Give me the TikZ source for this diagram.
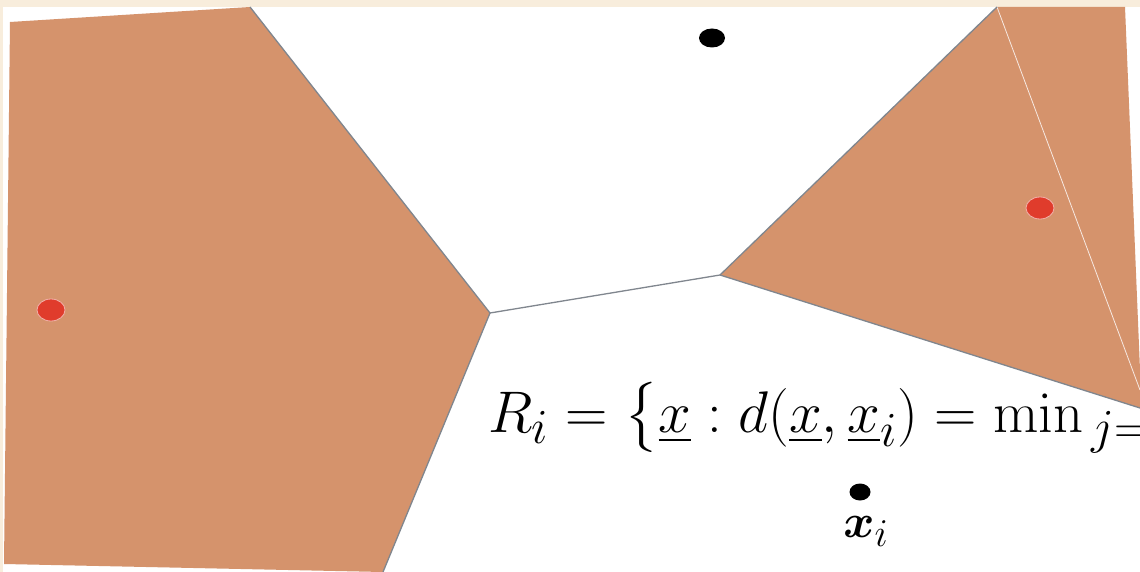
\documentclass[tikz,border=0pt]{standalone}
\usepackage{amsmath}
\usepackage{bm}
\usepackage{graphicx}
\usepackage{xcolor}
\definecolor{cellorange}{RGB}{213,147,108}
\definecolor{seedred}{RGB}{224,60,44}
\definecolor{pagebeige}{RGB}{248,237,220}
\definecolor{edgegray}{RGB}{128,134,142}
\usepackage{tikz}
\usetikzlibrary{positioning, shapes.geometric}

\begin{document}
\begin{tikzpicture}[x=1pt, y=-1pt,
    cell/.style={fill=cellorange, draw=none},
    ridge/.style={edgegray, line width=1.3pt},
    redseed/.style={ellipse, fill=seedred, draw=seedred!40!white, line width=0.8pt, minimum width=28pt, minimum height=22pt, inner sep=0pt},
    blackseed/.style={ellipse, fill=black, inner sep=0pt}]
      % Page and white slide area
      \useasboundingbox (0,0) rectangle (1140,572);
      \clip (0,0) rectangle (1140,572);
      \fill[pagebeige] (0,0) rectangle (1140,572);
      \fill[white] (3,7) rectangle (1140,572);
      % Voronoi vertices
      \coordinate (vtl) at (250,7);
      \coordinate (vl) at (490,313);
      \coordinate (vr) at (720,275);
      \coordinate (vtr) at (997,7);
      \coordinate (vbl) at (383,572);
      \coordinate (vbr) at (1140,408);
      % Left cell
      \fill[cell] (10,22) -- (vtl) -- (vl) -- (vbl) -- (4,564) -- cycle;
      % Right cells
      \fill[cell] (vtr) -- (1125,7) -- (1140,370) -- (vbr) -- (vr) -- cycle;
      \draw[white!80!cellorange, line width=0.8pt] (vtr) -- (1140,390);
      % Ridges
      \draw[ridge] (vtl) -- (vl) -- (vr) -- (vtr);
      \draw[ridge] (vl) -- (vbl);
      \draw[ridge] (vr) -- (vbr);
      % Seeds
      \node[redseed] (seedl) at (51,310) {};
      \node[redseed] (seedr) at (1040,208) {};
      \node[blackseed, minimum width=26pt, minimum height=19pt] (seedt) at (712,38) {};
      \node[blackseed, minimum width=21pt, minimum height=17pt] (seedi) at (860,492) {};
      \node[anchor=base, inner sep=0pt] (labi) at (866,537)
        {\scalebox{1.9}{\fontsize{24.88}{30}\selectfont $\bm{x}_i$}};
      % Region definition
      \node[anchor=base west, inner sep=0pt] (rdef) at (488,432)
        {\scalebox{2.36}{\fontsize{24.88}{30}\selectfont
          $R_i = \big\{\underline{x} : d(\underline{x}, \underline{x}_i) = \min\nolimits_{\,j=1}$}};
    \end{tikzpicture}
\end{document}
